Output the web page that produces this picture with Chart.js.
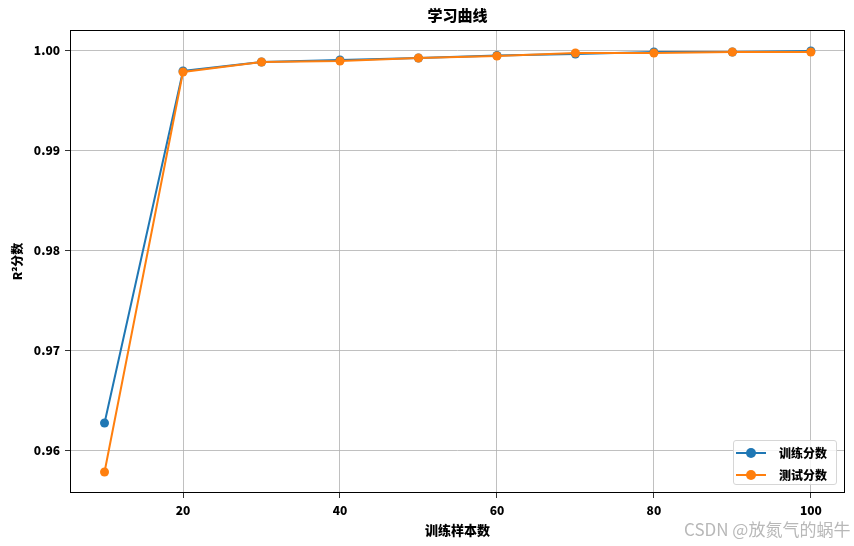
<!DOCTYPE html>
<html>
<head>
<meta charset="utf-8">
<script src="https://cdn.jsdelivr.net/npm/chart.js@4"></script>
<style>
  html, body { margin: 0; padding: 0; background: #fff; }
  #wrap { position: relative; width: 854px; height: 546px; }
  #titulo {
    position: absolute; left: 70px; width: 775px; top: 5px; text-align: center;
    font: 900 15px "Noto Sans CJK SC", sans-serif; color: #000; line-height: 20px;
  }
  #legend {
    position: absolute; left: 733px; top: 440px; width: 104px; height: 45px;
    border: 1px solid #d6d6d6; border-radius: 3px; background: rgba(255,255,255,0.8);
    font: 900 12px "Noto Sans CJK SC", sans-serif; box-sizing: border-box;
  }
  .item { position: absolute; left: 2px; height: 20px; line-height: 20px; }
  .item .ln { position: absolute; left: 0; top: 9px; width: 30px; height: 2px; }
  .item .dot { position: absolute; left: 10px; top: 5px; width: 10px; height: 10px; border-radius: 50%; }
  .item .tx { position: absolute; left: 43px; white-space: nowrap; color: #000; }
  #mark {
    position: absolute; left: 684px; top: 518px; color: #b8b8b8;
    font: 17px "Noto Sans CJK SC", sans-serif; white-space: nowrap; line-height: 22px;
  }
</style>
</head>
<body>
<div id="wrap">
  <canvas id="c" width="854" height="546"></canvas>
  <div id="titulo">学习曲线</div>
  <div id="legend"></div>
  <div id="mark">CSDN @放氮气的蜗牛</div>
</div>
<script>
// 数据
const muestras   = [10, 20, 30, 40, 50, 60, 70, 80, 90, 100];
const entreno    = [0.9627, 0.9979, 0.9988, 0.9990, 0.9992, 0.99945, 0.9996, 0.9998, 0.9998, 0.9999];
const prueba     = [0.9578, 0.9978, 0.9988, 0.9989, 0.9992, 0.9994, 0.9997, 0.9997, 0.9998, 0.9998];
const ticksX     = [20, 40, 60, 80, 100];
const ticksY     = [0.96, 0.97, 0.98, 0.99, 1.00];
const nombres    = ['训练分数', '测试分数'];
const colores    = ['#1f77b4', '#ff7f0e'];

const fuente = '"Noto Sans CJK SC", sans-serif';

const marco = {
    id: 'marco',
    afterDraw(chart) {
        const a = chart.chartArea, ctx = chart.ctx;
        ctx.save();
        ctx.strokeStyle = '#000';
        ctx.lineWidth = 1;
        ctx.strokeRect(a.left + 0.5, a.top + 0.5, a.right - a.left - 1, a.bottom - a.top - 1);
        ctx.restore();
    }
};

function serie(i, datos) {
    return {
        label: nombres[i],
        data: muestras.map((x, k) => ({ x, y: datos[k] })),
        borderColor: colores[i],
        backgroundColor: colores[i],
        borderWidth: 2,
        pointRadius: 4.5,
        pointHoverRadius: 4.5,
        pointBorderWidth: 0,
        tension: 0,
        order: 1 - i,   // el segundo encima
    };
}

new Chart(document.getElementById('c'), {
    type: 'line',
    data: { datasets: [serie(0, entreno), serie(1, prueba)] },
    plugins: [marco],
    options: {
        responsive: false,
        animation: false,
        layout: { padding: { left: 0, right: 9, top: 30, bottom: 0 } },
        plugins: {
            legend: { display: false },
            tooltip: { enabled: false },
            title: { display: false }
        },
        scales: {
            x: {
                type: 'linear', min: 5.6, max: 104.35,
                afterBuildTicks: s => { s.ticks = ticksX.map(v => ({ value: v })); },
                afterFit: s => { s.height = 53; },
                grid: { color: '#b0b0b0', lineWidth: 0.8, tickColor: '#000', tickLength: 5 },
                border: { display: false },
                ticks: { color: '#000', font: { family: fuente, size: 12, weight: 900 }, padding: 5, maxRotation: 0 },
                title: { display: true, text: '训练样本数', color: '#000', font: { family: fuente, size: 13, weight: 900 }, padding: { top: 0, bottom: 8 } }
            },
            y: {
                min: 0.9557, max: 1.0020,
                afterBuildTicks: s => { s.ticks = ticksY.map(v => ({ value: v })); },
                afterFit: s => { s.width = 70; },
                grid: { color: '#b0b0b0', lineWidth: 0.8, tickColor: '#000', tickLength: 5 },
                border: { display: false },
                ticks: { color: '#000', font: { family: fuente, size: 12, weight: 900 }, padding: 5, callback: v => v.toFixed(2) },
                title: { display: true, text: 'R²分数', color: '#000', font: { family: fuente, size: 12, weight: 900 }, padding: { top: 10, bottom: 0 } }
            }
        }
    }
});

const leyenda = document.getElementById('legend');
nombres.forEach((n, i) => {
    leyenda.innerHTML += `<div class="item" style="top:${2 + i * 22}px; width:100px">
        <div class="ln" style="background:${colores[i]}"></div>
        <div class="dot" style="background:${colores[i]}"></div>
        <div class="tx">${n}</div>
    </div>`;
});
</script>
</body>
</html>
